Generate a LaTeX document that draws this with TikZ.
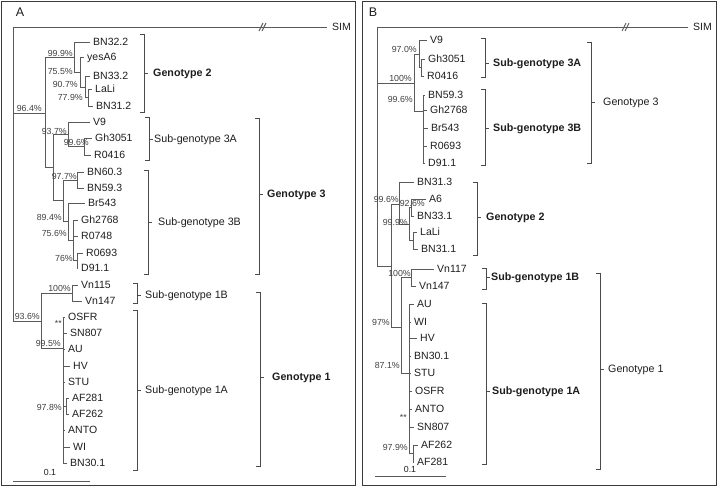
\documentclass[tikz,border=0pt]{standalone}
\usepackage{fontspec}
\setmainfont{Liberation Sans}
\definecolor{ln}{HTML}{5A5A5A}
\definecolor{brc}{HTML}{4A4A4A}
\definecolor{txt}{HTML}{1E1E1E}
\definecolor{frm}{HTML}{3A3A3A}
\newcommand\leafat[5]{\node[leaf] (#1) at (#3,#4) {#5}; \draw[tree] (#2) |- ([xshift=-3pt]#1.west);}
\newcommand\pctat[4]{\node[pct] (#1) at (#2,#3) {#4};}
\newcommand\brkt[4]{\draw[brk] (#1-4,#2) -- (#1,#2) -- (#1,#3) -- (#1-4,#3) (#1,#4) -- (#1+4,#4);}
\begin{document}
\begin{tikzpicture}[x=1pt,y=-1pt,
  tree/.style={draw=ln,line width=0.9pt},
  brk/.style={draw=brc,line width=0.9pt},
  frame/.style={draw=frm,line width=1pt},
  leaf/.style={anchor=west,inner sep=0pt,font=\fontsize{10.5}{12}\selectfont,text height=7.5pt,text depth=0pt,text=txt},
  pct/.style={anchor=east,inner sep=0pt,font=\fontsize{8.8}{10}\selectfont,text height=6.3pt,text depth=0pt,text=txt!85!white},
  glab/.style={anchor=west,inner sep=0pt,font=\fontsize{10.7}{12}\selectfont,text height=7.7pt,text depth=0pt,text=txt},
  gbold/.style={glab,font=\fontsize{10.7}{12}\selectfont\bfseries},
  panel/.style={inner sep=0pt,font=\fontsize{12.5}{14}\selectfont,text=txt},
  scl/.style={inner sep=0pt,font=\fontsize{8.8}{10}\selectfont,text=txt}]
\useasboundingbox (0,0) rectangle (718,486);
\fill[white] (0,0) rectangle (718,486);
\draw[frame] (1.5,1.5) rectangle (355,485);
\draw[frame] (362.5,1.5) rectangle (716.5,485);
\node[panel] (labA) at (20,12) {A};
\node[panel] (labB) at (373,12) {B};

% ---------------- Panel A ----------------
\coordinate (rootA) at (13,27);
\node[leaf] (simA) at (332,27) {SIM};
\draw[tree] ([xshift=-5pt]simA.west) -- (rootA);
\draw[tree] (259,31) -- (263,23) (262,31) -- (266,23);
\coordinate (a964) at (45,113);
\coordinate (a999) at (74,57);
\coordinate (a755) at (80,72);
\coordinate (a907) at (85,87);
\coordinate (a779) at (88,97.5);
\coordinate (ag3) at (53,167);
\coordinate (a937) at (68,134);
\coordinate (a996) at (84,146.5);
\coordinate (a3B) at (63,200);
\coordinate (a977) at (77,180);
\coordinate (a894) at (68,221);
\coordinate (a756) at (73,240);
\coordinate (a76) at (77,260.5);
\coordinate (a936) at (41,321);
\coordinate (a1B) at (72,293);
\coordinate (a1A) at (63,348);
\coordinate (a978) at (66,406);
\draw[tree] (rootA) |- (a964) (rootA) |- (a936)
  (a964) |- (a999) (a964) |- (ag3)
  (a999) |- (a755) (a755) |- (a907) (a907) |- (a779)
  (ag3) |- (a937) (ag3) |- (a3B) (a937) |- (a996)
  (a3B) |- (a977) (a3B) |- (a894) (a894) |- (a756) (a756) |- (a76)
  (a936) |- (a1B) (a936) |- (a1A) (a1A) |- (a978);
\leafat{BN322A}{a999}{93}{42}{BN32.2}
\leafat{yesA6A}{a755}{87}{57}{yesA6}
\leafat{BN332A}{a907}{93}{76}{BN33.2}
\leafat{LaLiA}{a779}{95}{89}{LaLi}
\leafat{BN312A}{a779}{96}{106}{BN31.2}
\leafat{V9A}{a937}{93}{122}{V9}
\leafat{Gh3051A}{a996}{95}{138}{Gh3051}
\leafat{R0416A}{a996}{94}{155}{R0416}
\leafat{BN603A}{a977}{87}{172}{BN60.3}
\leafat{BN593A}{a977}{87}{188}{BN59.3}
\leafat{Br543A}{a894}{88}{203}{Br543}
\leafat{Gh2768A}{a756}{81}{220}{Gh2768}
\leafat{R0748A}{a756}{81}{236}{R0748}
\leafat{R0693A}{a76}{86}{253}{R0693}
\leafat{D911A}{a76}{81}{268}{D91.1}
\leafat{Vn115A}{a1B}{81}{285}{Vn115}
\leafat{Vn147A}{a1B}{85}{301}{Vn147}
\leafat{OSFRA}{a1A}{68}{317}{OSFR}
\leafat{SN807A}{a1A}{70}{333}{SN807}
\leafat{AUA}{a1A}{68}{349}{AU}
\leafat{HVA}{a1A}{73}{366}{HV}
\leafat{STUA}{a1A}{68}{382}{STU}
\leafat{AF281A}{a978}{72}{398}{AF281}
\leafat{AF262A}{a978}{72}{414}{AF262}
\leafat{ANTOA}{a1A}{68}{430}{ANTO}
\leafat{WIA}{a1A}{73}{447}{WI}
\leafat{BN301A}{a1A}{70}{463}{BN30.1}
\pctat{pA1}{42}{108}{96.4\%}
\pctat{pA2}{73}{53}{99.9\%}
\pctat{pA3}{73}{71}{75.5\%}
\pctat{pA4}{78}{84}{90.7\%}
\pctat{pA5}{83}{97}{77.9\%}
\pctat{pA6}{67}{131}{93.7\%}
\pctat{pA7}{89}{142}{99.6\%}
\pctat{pA8}{77}{176}{97.7\%}
\pctat{pA9}{62}{217}{89.4\%}
\pctat{pA10}{67}{233}{75.6\%}
\pctat{pA11}{73}{258}{76\%}
\pctat{pA12}{71}{288}{100\%}
\pctat{pA13}{40}{316}{93.6\%}
\pctat{pA14}{61}{343}{99.5\%}
\pctat{pA15}{62}{323}{**}
\pctat{pA16}{62}{407}{97.8\%}
\brkt{144}{34}{112}{73}
\node[gbold] (gA2) at (153,73) {Genotype 2};
\brkt{149}{117}{160}{139}
\node[glab] (sA3A) at (154,139) {Sub-genotype 3A};
\brkt{148}{170}{274}{222}
\node[glab] (sA3B) at (158,222) {Sub-genotype 3B};
\brkt{137}{283}{303}{295}
\node[glab] (sA1B) at (145,295) {Sub-genotype 1B};
\brkt{137}{310}{470}{390}
\node[glab] (sA1A) at (145,390) {Sub-genotype 1A};
\brkt{259}{118}{274}{194}
\node[gbold] (gA3) at (267,194) {Genotype 3};
\brkt{260}{292}{466}{377}
\node[gbold] (gA1) at (272,377) {Genotype 1};
\coordinate (sclA1) at (13,481);
\coordinate (sclA2) at (90,481);
\draw[tree] (sclA1) -- (sclA2);
\node[scl] (sclAt) at (50,472) {0.1};

% ---------------- Panel B ----------------
\coordinate (rootB) at (377,27);
\node[leaf] (simB) at (693,27) {SIM};
\draw[tree] ([xshift=-5pt]simB.west) -- (rootB);
\draw[tree] (622,31) -- (626,23) (625,31) -- (629,23);
\coordinate (bg3) at (414,83);
\coordinate (b970) at (419,54);
\coordinate (b3Ai) at (421,67.5);
\coordinate (b3B) at (423,111);
\coordinate (b996) at (391,266);
\coordinate (bg2) at (399,204);
\coordinate (b999) at (409,224);
\coordinate (b926) at (411,207.5);
\coordinate (bLa) at (413,240.5);
\coordinate (b97) at (401,327);
\coordinate (b1B) at (411,277.5);
\coordinate (b871) at (409,373);
\coordinate (b979) at (413,453);
\draw[tree] (rootB) |- (bg3) (rootB) |- (b996)
  (bg3) |- (b970) (bg3) |- (b3B) (b970) |- (b3Ai)
  (b996) |- (bg2) (b996) |- (b97)
  (bg2) |- (b999) (b999) |- (b926) (b999) |- (bLa)
  (b97) |- (b1B) (b97) |- (b871) (b871) |- (b979);
\leafat{V9B}{b970}{430}{40}{V9}
\leafat{Gh3051B}{b3Ai}{428}{59}{Gh3051}
\leafat{R0416B}{b3Ai}{427}{76}{R0416}
\leafat{BN593B}{b3B}{428}{95}{BN59.3}
\leafat{Gh2768B}{b3B}{430}{110}{Gh2768}
\leafat{Br543B}{b3B}{431}{128}{Br543}
\leafat{R0693B}{b3B}{430}{146}{R0693}
\leafat{D911B}{b3B}{428}{163}{D91.1}
\leafat{BN313B}{bg2}{417}{182}{BN31.3}
\leafat{A6B}{b926}{429}{199}{A6}
\leafat{BN331B}{b926}{417}{216}{BN33.1}
\leafat{LaLiB}{bLa}{420}{232}{LaLi}
\leafat{BN311B}{bLa}{421}{249}{BN31.1}
\leafat{Vn117B}{b1B}{437}{269}{Vn117}
\leafat{Vn147B}{b1B}{419}{286}{Vn147}
\leafat{AUB}{b871}{417}{304}{AU}
\leafat{WIB}{b871}{414}{322}{WI}
\leafat{HVB}{b871}{420}{338}{HV}
\leafat{BN301B}{b871}{414}{356}{BN30.1}
\leafat{STUB}{b871}{414}{373}{STU}
\leafat{OSFRB}{b871}{415}{391}{OSFR}
\leafat{ANTOB}{b871}{415}{409}{ANTO}
\leafat{SN807B}{b871}{417}{427}{SN807}
\leafat{AF262B}{b979}{421}{445}{AF262}
\leafat{AF281B}{b979}{417}{462}{AF281}
\pctat{pB1}{417}{49}{97.0\%}
\pctat{pB2}{412}{78}{100\%}
\pctat{pB3}{413}{99}{99.6\%}
\pctat{pB4}{399}{199}{99.6\%}
\pctat{pB5}{425}{203}{92.6\%}
\pctat{pB6}{408}{222}{99.9\%}
\pctat{pB7}{411}{273}{100\%}
\pctat{pB8}{390}{322}{97\%}
\pctat{pB9}{400}{365}{87.1\%}
\pctat{pB10}{407}{417}{**}
\pctat{pB11}{408}{447}{97.9\%}
\brkt{485}{38}{77}{63}
\node[gbold] (sB3A) at (493,63) {Sub-genotype 3A};
\brkt{485}{89}{165}{128}
\node[gbold] (sB3B) at (493,128) {Sub-genotype 3B};
\brkt{591}{42}{163}{102}
\node[glab] (gB3) at (603,102) {Genotype 3};
\brkt{477}{182}{255}{217}
\node[gbold] (gB2) at (486,217) {Genotype 2};
\brkt{486}{268}{289}{277}
\node[gbold] (sB1B) at (491,277) {Sub-genotype 1B};
\brkt{486}{303}{464}{391}
\node[gbold] (sB1A) at (492,391) {Sub-genotype 1A};
\brkt{600}{273}{469}{369}
\node[glab] (gB1) at (608,369) {Genotype 1};
\coordinate (sclB1) at (375,476);
\coordinate (sclB2) at (446,476);
\draw[tree] (sclB1) -- (sclB2);
\node[scl] (sclBt) at (410,469) {0.1};
\end{tikzpicture}
\end{document}
